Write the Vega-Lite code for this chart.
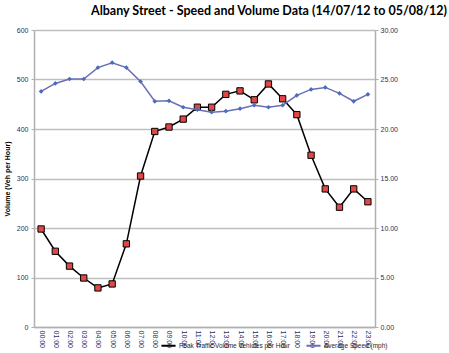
{
  "$schema": "https://vega.github.io/schema/vega-lite/v6.json",
  "width": 341,
  "height": 297,
  "autosize": "none",
  "padding": {"left": 34, "top": 30, "right": 74, "bottom": 26},
  "background": "white",
  "title": {
    "text": "Albany Street - Speed and Volume Data (14/07/12 to 05/08/12)",
    "font": "Lato",
    "fontSize": 12.5,
    "fontWeight": "bold",
    "color": "#000000",
    "anchor": "end",
    "frame": "group",
    "dx": 72,
    "offset": 9
  },
  "config": {
    "view": {"stroke": null},
    "font": "Liberation Sans"
  },
  "data": {
    "values": [
      {"t": "00:00", "vol": 198, "spd": 23.8},
      {"t": "01:00", "vol": 153, "spd": 24.6},
      {"t": "02:00", "vol": 123, "spd": 25.05},
      {"t": "03:00", "vol": 99, "spd": 25.05},
      {"t": "04:00", "vol": 79, "spd": 26.2},
      {"t": "05:00", "vol": 87, "spd": 26.7},
      {"t": "06:00", "vol": 168, "spd": 26.2},
      {"t": "07:00", "vol": 305, "spd": 24.8},
      {"t": "08:00", "vol": 395, "spd": 22.8},
      {"t": "09:00", "vol": 404, "spd": 22.85},
      {"t": "10:00", "vol": 420, "spd": 22.2},
      {"t": "11:00", "vol": 444, "spd": 21.95},
      {"t": "12:00", "vol": 444, "spd": 21.7},
      {"t": "13:00", "vol": 470, "spd": 21.8},
      {"t": "14:00", "vol": 477, "spd": 22.05},
      {"t": "15:00", "vol": 459, "spd": 22.4},
      {"t": "16:00", "vol": 491, "spd": 22.2},
      {"t": "17:00", "vol": 461, "spd": 22.4},
      {"t": "18:00", "vol": 429, "spd": 23.4},
      {"t": "19:00", "vol": 347, "spd": 24.0},
      {"t": "20:00", "vol": 279, "spd": 24.2},
      {"t": "21:00", "vol": 242, "spd": 23.6},
      {"t": "22:00", "vol": 279, "spd": 22.8},
      {"t": "23:00", "vol": 253, "spd": 23.5}
    ]
  },
  "encoding": {
    "x": {
      "field": "t",
      "type": "ordinal",
      "scale": {"type": "point", "padding": 0.5},
      "axis": {
        "title": null,
        "labelAngle": 90,
        "labelAlign": "left",
        "labelBaseline": "middle",
        "labelFontSize": 7,
        "labelColor": "#1f2f5f",
        "labelPadding": 3,
        "domainColor": "#b0b0b0",
        "domainWidth": 1.5,
        "ticks": false,
        "grid": false
      }
    }
  },
  "resolve": {"scale": {"y": "independent"}},
  "layer": [
    {
      "layer": [
        {
          "transform": [{"calculate": "'Peak Traffic Volume Vehicles per Hour'", "as": "s"}],
          "mark": {"type": "line", "strokeWidth": 1.5},
          "encoding": {
            "y": {
              "field": "vol",
              "type": "quantitative",
              "scale": {"domain": [0, 600]},
              "axis": {
                "orient": "left",
                "values": [0, 100, 200, 300, 400, 500, 600],
                "title": "Volume (Veh per Hour)",
                "titleFontSize": 7,
                "titleFontWeight": "bold",
                "titleColor": "#000000",
                "titlePadding": 6,
                "labelFontSize": 7,
                "labelColor": "#1f2f5f",
                "labelPadding": 3,
                "tickColor": "#b0b0b0",
                "tickSize": 3,
                "domainColor": "#b0b0b0",
                "domainWidth": 1.5,
                "grid": true,
                "gridColor": "#bfbfbf",
                "gridWidth": 1.5
              }
            },
            "color": {
              "field": "s",
              "type": "nominal",
              "scale": {
                "domain": ["Peak Traffic Volume Vehicles per Hour", "Average Speed (mph)"],
                "range": ["#000000", "#6a6fb5"]
              },
              "legend": {
                "title": null,
                "orient": "none",
                "direction": "horizontal",
                "legendX": 126,
                "legendY": 307,
                "labelFontSize": 6.5,
                "labelColor": "#1f1f1f",
                "labelOffset": 2,
                "symbolType": "stroke",
                "symbolSize": 200,
                "symbolStrokeWidth": 2,
                "columnPadding": 12
              }
            }
          }
        },
        {
          "mark": {"type": "square", "size": 40, "fill": "#e04848", "stroke": "#000000", "strokeWidth": 1, "opacity": 1},
          "encoding": {
            "y": {"field": "vol", "type": "quantitative", "scale": {"domain": [0, 600]}}
          }
        }
      ]
    },
    {
      "layer": [
        {
          "transform": [{"calculate": "'Average Speed (mph)'", "as": "s"}],
          "mark": {"type": "line", "strokeWidth": 1.5},
          "encoding": {
            "y": {
              "field": "spd",
              "type": "quantitative",
              "scale": {"domain": [0, 30]},
              "axis": {
                "orient": "right",
                "values": [0, 5, 10, 15, 20, 25, 30],
                "format": ".2f",
                "title": null,
                "labelFontSize": 7,
                "labelColor": "#1f2f5f",
                "labelPadding": 2,
                "tickColor": "#b0b0b0",
                "tickSize": 3,
                "domainColor": "#b0b0b0",
                "domainWidth": 1.5,
                "grid": false
              }
            },
            "color": {"field": "s", "type": "nominal"}
          }
        },
        {
          "mark": {"type": "point", "shape": "diamond", "size": 22, "filled": true, "fill": "#4a6cc0", "opacity": 1},
          "encoding": {
            "y": {"field": "spd", "type": "quantitative", "scale": {"domain": [0, 30]}}
          }
        }
      ]
    }
  ]
}
